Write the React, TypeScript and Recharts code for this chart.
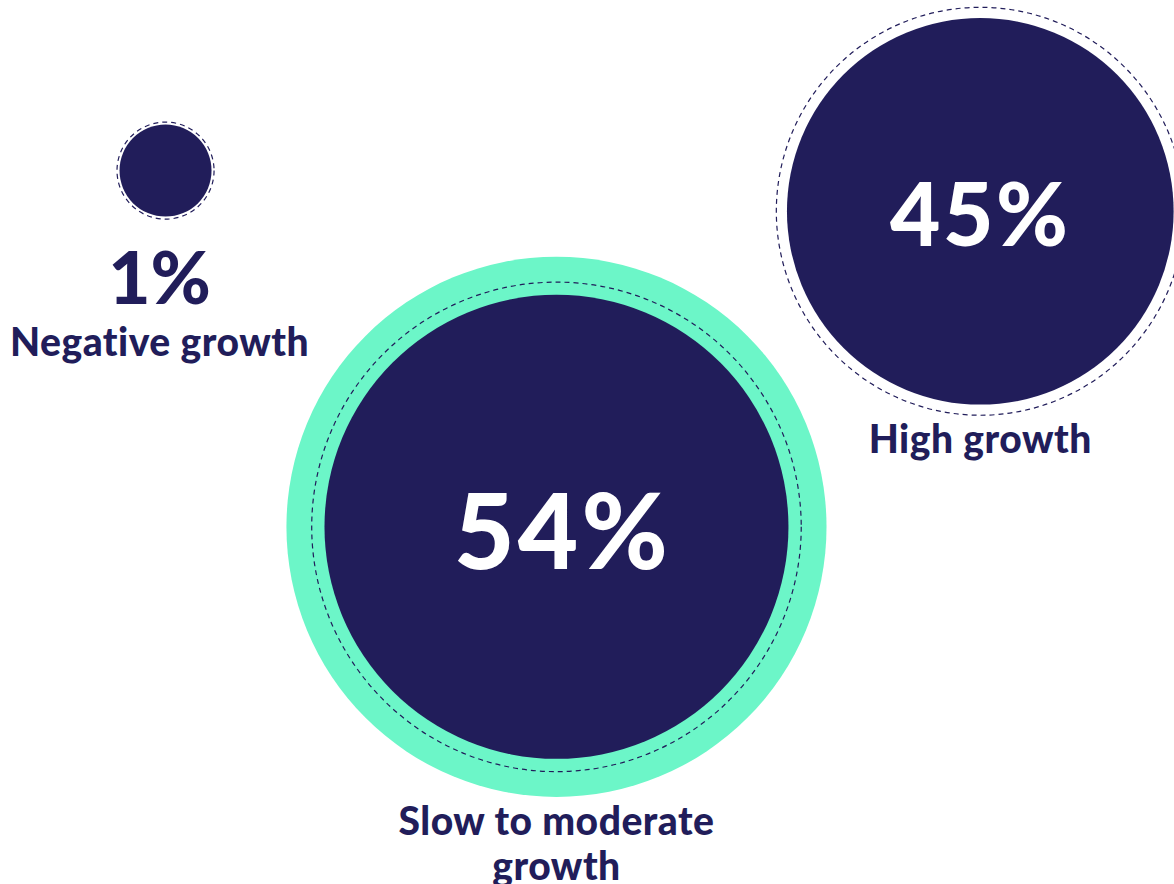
import { ScatterChart, Scatter, XAxis, YAxis, ZAxis } from 'recharts';

const CATEGORIES = ['Negative growth', 'Slow to moderate growth', 'High growth'];
const SHARES = [1, 54, 45];
// where each bubble sits, as a percent of the canvas (0 = left / bottom)
const POS_X = [14.1, 47.4, 83.5];
const POS_Y = [80.7, 40.4, 76.1];

const W = 1174;
const H = 884;
const NAVY = '#211d5a';
const MINT = '#6cf6c8';
const FONT = 'Lato, "Open Sans", sans-serif';
const MIN_R = 46;
const MAX_SHARE = Math.max(...SHARES);
const WRAP_AT = 16; // characters per label line

const data = CATEGORIES.map((name, i) => ({ name, share: SHARES[i], x: POS_X[i], y: POS_Y[i] }));

function wrap(text: string): string[] {
  const lines: string[] = [];
  for (const w of text.split(' ')) {
    const last = lines[lines.length - 1];
    if (last != null && (last + ' ' + w).length <= WRAP_AT) lines[lines.length - 1] = last + ' ' + w;
    else lines.push(w);
  }
  return lines;
}

function Name({ x, y, text }: { x: number; y: number; text: string }) {
  // y is the first baseline
  return (
    <text x={x} y={y} textAnchor="middle" fill={NAVY} fontFamily={FONT} fontWeight={900} fontSize={39} letterSpacing={0.5}>
      {wrap(text).map((line, i) => (
        <tspan key={i} x={x} dy={i === 0 ? 0 : 45}>{line}</tspan>
      ))}
    </text>
  );
}

function Bubble(props: any) {
  const { cx, cy, size, payload } = props;
  const r = Math.max(size / 2, MIN_R);
  const ring = r * 1.055;
  const isTop = payload.share === MAX_SHARE;
  const outer = isTop ? r * 1.164 : ring;
  const inside = r > 120;
  const label = `${payload.share}%`;

  if (!inside) {
    // tiny bubble: value and name sit underneath
    const valueBase = cy + ring + 85;
    return (
      <g>
        <circle cx={cx} cy={cy} r={ring} fill="none" stroke={NAVY} strokeWidth={1.2} strokeDasharray="5 4" />
        <circle cx={cx} cy={cy} r={r} fill={NAVY} />
        <text x={cx - 6} y={valueBase} textAnchor="middle" fill={NAVY} fontFamily={FONT} fontWeight={900} fontSize={73}>
          {label}
        </text>
        <Name x={cx - 6} y={valueBase + 52} text={payload.name} />
      </g>
    );
  }

  const fs = r * 0.45;
  return (
    <g>
      {isTop && <circle cx={cx} cy={cy} r={outer} fill={MINT} />}
      <circle cx={cx} cy={cy} r={ring} fill={isTop ? MINT : 'none'} stroke={NAVY} strokeWidth={1.2} strokeDasharray="5 4" />
      <circle cx={cx} cy={cy} r={r} fill={NAVY} />
      <text x={cx + (isTop ? 6 : 0)} y={cy + fs * 0.4} textAnchor="middle" fill="#fff" fontFamily={FONT} fontWeight={900}
        fontSize={fs} letterSpacing={fs * 0.03}>
        {label}
      </text>
      <Name x={cx} y={cy + outer + 38} text={payload.name} />
    </g>
  );
}

export default function App() {
  return (
    <div style={{ position: 'absolute', left: 0, top: 0, width: W, height: H, background: '#fff' }}>
      <ScatterChart width={W} height={H} margin={{ top: 0, right: 0, bottom: 0, left: 0 }}>
        <XAxis type="number" dataKey="x" domain={[0, 100]} hide />
        <YAxis type="number" dataKey="y" domain={[0, 100]} hide />
        <ZAxis type="number" dataKey="share" domain={[0, MAX_SHARE]} range={[0, 464]} />
        <Scatter data={data} shape={Bubble} isAnimationActive={false} />
      </ScatterChart>
    </div>
  );
}
